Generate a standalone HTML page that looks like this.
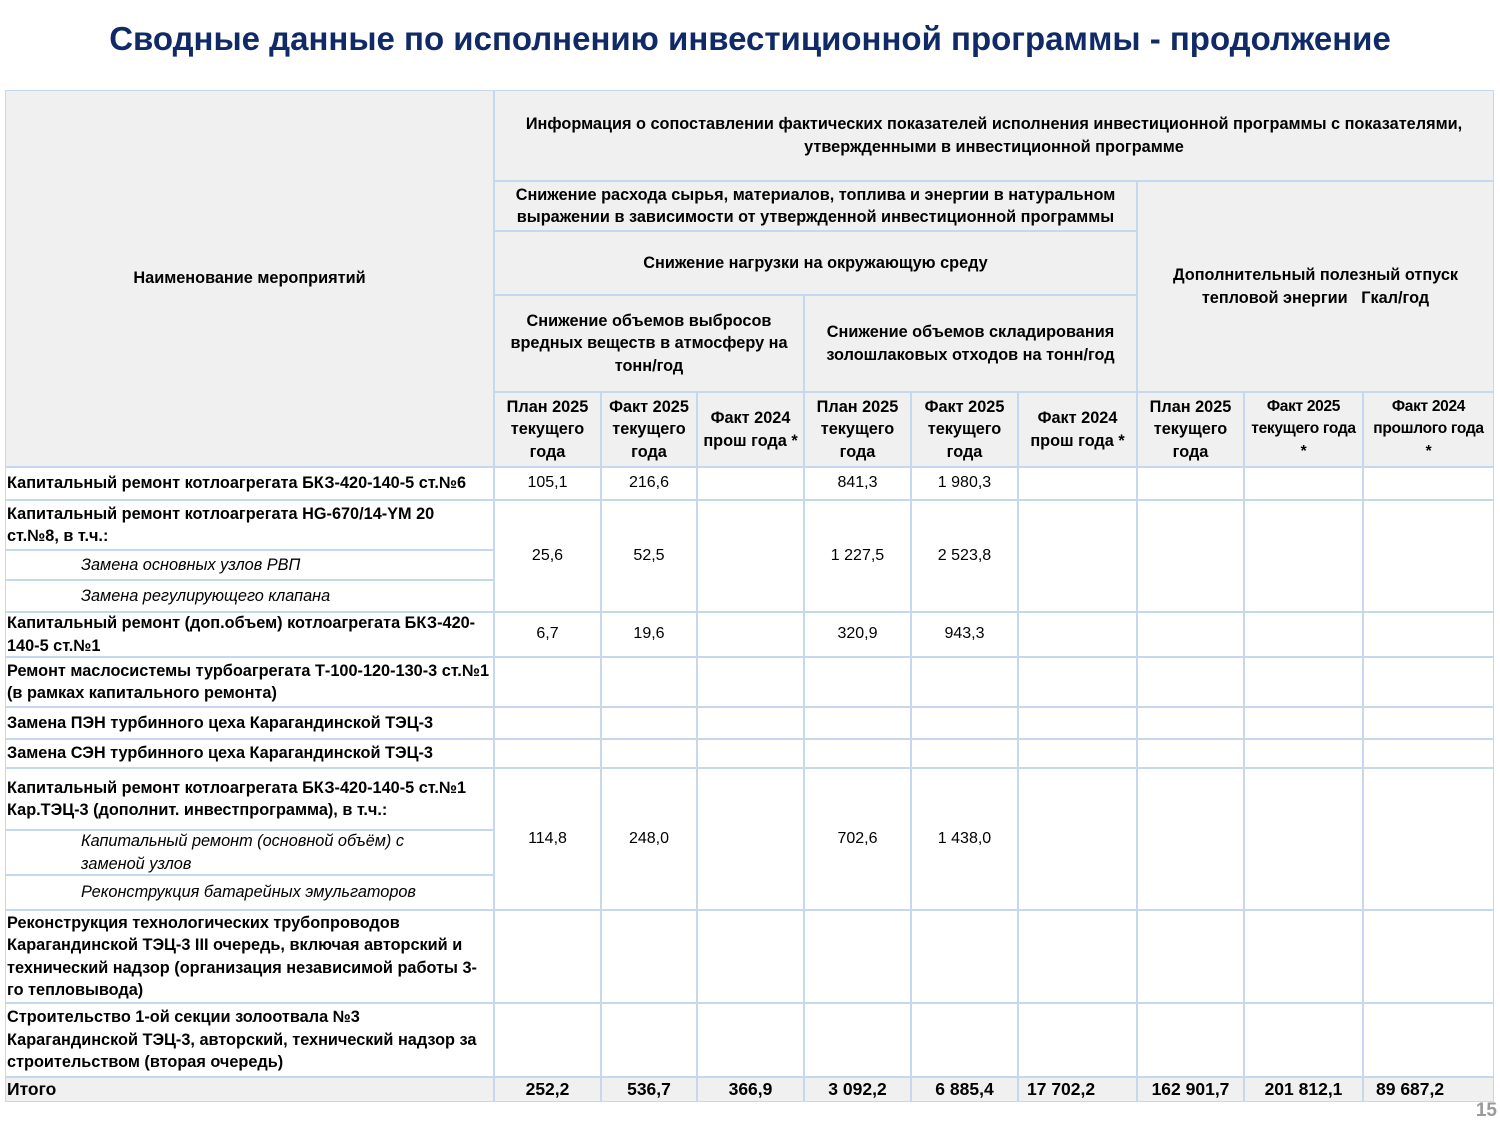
<!DOCTYPE html>
<html><head><meta charset="utf-8">
<style>
body{margin:0;width:1500px;height:1125px;background:#fff;position:relative;overflow:hidden;font-family:"Liberation Sans",sans-serif;color:#000}
.t{position:absolute;left:0;top:20px;width:1500px;text-align:center;font-size:33px;font-weight:bold;color:#0f2a66;white-space:nowrap}
.c{position:absolute;box-sizing:border-box;border:1px solid #c6d8ee;display:flex;align-items:center;justify-content:center;text-align:center;font-size:16.3px;line-height:22.5px;font-weight:bold;white-space:nowrap}
.h{background:#f0f0f0}
.l{justify-content:flex-start;text-align:left;padding-left:1px}
.i{justify-content:flex-start;text-align:left;padding-left:75px;font-weight:normal;font-style:italic}
.n{font-weight:normal;font-size:16px}
.s{font-size:15.5px;letter-spacing:-0.3px}
.tt{font-size:17.5px}
.pg{position:absolute;right:3px;top:1100px;font-size:19px;font-weight:bold;color:#999}
</style></head><body>
<div class="t">Сводные данные по исполнению инвестиционной программы - продолжение</div>

<div class="c h" style="left:5px;top:90px;width:489px;height:377px">Наименование мероприятий</div>
<div class="c h" style="left:494px;top:90px;width:1000px;height:91px">Информация о сопоставлении фактических показателей исполнения инвестиционной программы с показателями,<br>утвержденными в инвестиционной программе</div>
<div class="c h" style="left:494px;top:181px;width:643px;height:50px">Снижение расхода сырья, материалов, топлива и энергии в натуральном<br>выражении в зависимости от утвержденной инвестиционной программы</div>
<div class="c h" style="left:494px;top:231px;width:643px;height:64px">Снижение нагрузки на окружающую среду</div>
<div class="c h" style="left:1137px;top:181px;width:357px;height:211px">Дополнительный полезный отпуск<br>тепловой энергии&nbsp;&nbsp; Гкал/год</div>
<div class="c h" style="left:494px;top:295px;width:310px;height:97px">Снижение объемов выбросов<br>вредных веществ в атмосферу на<br>тонн/год</div>
<div class="c h" style="left:804px;top:295px;width:333px;height:97px">Снижение объемов складирования<br>золошлаковых отходов на тонн/год</div>
<div class="c h" style="left:494px;top:392px;width:107px;height:75px">План 2025<br>текущего<br>года</div>
<div class="c h" style="left:601px;top:392px;width:96px;height:75px">Факт 2025<br>текущего<br>года</div>
<div class="c h" style="left:697px;top:392px;width:107px;height:75px">Факт 2024<br>прош года *</div>
<div class="c h" style="left:804px;top:392px;width:107px;height:75px">План 2025<br>текущего<br>года</div>
<div class="c h" style="left:911px;top:392px;width:107px;height:75px">Факт 2025<br>текущего<br>года</div>
<div class="c h" style="left:1018px;top:392px;width:119px;height:75px">Факт 2024<br>прош года *</div>
<div class="c h" style="left:1137px;top:392px;width:107px;height:75px">План 2025<br>текущего<br>года</div>
<div class="c h s" style="left:1244px;top:392px;width:119px;height:75px">Факт 2025<br>текущего года<br>*</div>
<div class="c h s" style="left:1363px;top:392px;width:131px;height:75px">Факт 2024<br>прошлого года<br>*</div>

<div class="c l" style="left:5px;top:467px;width:489px;height:33px">Капитальный ремонт котлоагрегата БКЗ-420-140-5 ст.№6</div>
<div class="c l" style="left:5px;top:500px;width:489px;height:50px">Капитальный ремонт котлоагрегата HG-670/14-YM 20<br>ст.№8, в т.ч.:</div>
<div class="c i" style="left:5px;top:550px;width:489px;height:30px">Замена основных узлов РВП</div>
<div class="c i" style="left:5px;top:580px;width:489px;height:32px">Замена регулирующего клапана</div>
<div class="c l" style="left:5px;top:612px;width:489px;height:45px">Капитальный ремонт (доп.объем) котлоагрегата БКЗ-420-<br>140-5 ст.№1</div>
<div class="c l" style="left:5px;top:657px;width:489px;height:50px">Ремонт маслосистемы турбоагрегата Т-100-120-130-3 ст.№1<br>(в рамках капитального ремонта)</div>
<div class="c l" style="left:5px;top:707px;width:489px;height:32px">Замена ПЭН турбинного цеха Карагандинской ТЭЦ-3</div>
<div class="c l" style="left:5px;top:739px;width:489px;height:29px">Замена СЭН турбинного цеха Карагандинской ТЭЦ-3</div>
<div class="c l" style="left:5px;top:768px;width:489px;height:62px">Капитальный ремонт котлоагрегата БКЗ-420-140-5 ст.№1<br>Кар.ТЭЦ-3 (дополнит. инвестпрограмма), в т.ч.:</div>
<div class="c i" style="left:5px;top:830px;width:489px;height:45px">Капитальный ремонт (основной объём) с<br>заменой узлов</div>
<div class="c i" style="left:5px;top:875px;width:489px;height:35px">Реконструкция батарейных эмульгаторов</div>
<div class="c l" style="left:5px;top:910px;width:489px;height:93px">Реконструкция технологических трубопроводов<br>Карагандинской ТЭЦ-3 III очередь, включая авторский и<br>технический надзор (организация независимой работы 3-<br>го тепловывода)</div>
<div class="c l" style="left:5px;top:1003px;width:489px;height:74px">Строительство 1-ой секции золоотвала №3<br>Карагандинской ТЭЦ-3, авторский, технический надзор за<br>строительством (вторая очередь)</div>
<div class="c l h tt" style="left:5px;top:1077px;width:489px;height:25px">Итого</div>

<div class="c n" style="left:494px;top:467px;width:107px;height:33px">105,1</div>
<div class="c n" style="left:601px;top:467px;width:96px;height:33px">216,6</div>
<div class="c" style="left:697px;top:467px;width:107px;height:33px"></div>
<div class="c n" style="left:804px;top:467px;width:107px;height:33px">841,3</div>
<div class="c n" style="left:911px;top:467px;width:107px;height:33px">1 980,3</div>
<div class="c" style="left:1018px;top:467px;width:119px;height:33px"></div>
<div class="c" style="left:1137px;top:467px;width:107px;height:33px"></div>
<div class="c" style="left:1244px;top:467px;width:119px;height:33px"></div>
<div class="c" style="left:1363px;top:467px;width:131px;height:33px"></div>

<div class="c n" style="left:494px;top:500px;width:107px;height:112px">25,6</div>
<div class="c n" style="left:601px;top:500px;width:96px;height:112px">52,5</div>
<div class="c" style="left:697px;top:500px;width:107px;height:112px"></div>
<div class="c n" style="left:804px;top:500px;width:107px;height:112px">1 227,5</div>
<div class="c n" style="left:911px;top:500px;width:107px;height:112px">2 523,8</div>
<div class="c" style="left:1018px;top:500px;width:119px;height:112px"></div>
<div class="c" style="left:1137px;top:500px;width:107px;height:112px"></div>
<div class="c" style="left:1244px;top:500px;width:119px;height:112px"></div>
<div class="c" style="left:1363px;top:500px;width:131px;height:112px"></div>

<div class="c n" style="left:494px;top:612px;width:107px;height:45px">6,7</div>
<div class="c n" style="left:601px;top:612px;width:96px;height:45px">19,6</div>
<div class="c" style="left:697px;top:612px;width:107px;height:45px"></div>
<div class="c n" style="left:804px;top:612px;width:107px;height:45px">320,9</div>
<div class="c n" style="left:911px;top:612px;width:107px;height:45px">943,3</div>
<div class="c" style="left:1018px;top:612px;width:119px;height:45px"></div>
<div class="c" style="left:1137px;top:612px;width:107px;height:45px"></div>
<div class="c" style="left:1244px;top:612px;width:119px;height:45px"></div>
<div class="c" style="left:1363px;top:612px;width:131px;height:45px"></div>

<div class="c" style="left:494px;top:657px;width:107px;height:50px"></div><div class="c" style="left:601px;top:657px;width:96px;height:50px"></div><div class="c" style="left:697px;top:657px;width:107px;height:50px"></div><div class="c" style="left:804px;top:657px;width:107px;height:50px"></div><div class="c" style="left:911px;top:657px;width:107px;height:50px"></div><div class="c" style="left:1018px;top:657px;width:119px;height:50px"></div><div class="c" style="left:1137px;top:657px;width:107px;height:50px"></div><div class="c" style="left:1244px;top:657px;width:119px;height:50px"></div><div class="c" style="left:1363px;top:657px;width:131px;height:50px"></div>
<div class="c" style="left:494px;top:707px;width:107px;height:32px"></div><div class="c" style="left:601px;top:707px;width:96px;height:32px"></div><div class="c" style="left:697px;top:707px;width:107px;height:32px"></div><div class="c" style="left:804px;top:707px;width:107px;height:32px"></div><div class="c" style="left:911px;top:707px;width:107px;height:32px"></div><div class="c" style="left:1018px;top:707px;width:119px;height:32px"></div><div class="c" style="left:1137px;top:707px;width:107px;height:32px"></div><div class="c" style="left:1244px;top:707px;width:119px;height:32px"></div><div class="c" style="left:1363px;top:707px;width:131px;height:32px"></div>
<div class="c" style="left:494px;top:739px;width:107px;height:29px"></div><div class="c" style="left:601px;top:739px;width:96px;height:29px"></div><div class="c" style="left:697px;top:739px;width:107px;height:29px"></div><div class="c" style="left:804px;top:739px;width:107px;height:29px"></div><div class="c" style="left:911px;top:739px;width:107px;height:29px"></div><div class="c" style="left:1018px;top:739px;width:119px;height:29px"></div><div class="c" style="left:1137px;top:739px;width:107px;height:29px"></div><div class="c" style="left:1244px;top:739px;width:119px;height:29px"></div><div class="c" style="left:1363px;top:739px;width:131px;height:29px"></div>

<div class="c n" style="left:494px;top:768px;width:107px;height:142px">114,8</div>
<div class="c n" style="left:601px;top:768px;width:96px;height:142px">248,0</div>
<div class="c" style="left:697px;top:768px;width:107px;height:142px"></div>
<div class="c n" style="left:804px;top:768px;width:107px;height:142px">702,6</div>
<div class="c n" style="left:911px;top:768px;width:107px;height:142px">1 438,0</div>
<div class="c" style="left:1018px;top:768px;width:119px;height:142px"></div>
<div class="c" style="left:1137px;top:768px;width:107px;height:142px"></div>
<div class="c" style="left:1244px;top:768px;width:119px;height:142px"></div>
<div class="c" style="left:1363px;top:768px;width:131px;height:142px"></div>

<div class="c" style="left:494px;top:910px;width:107px;height:93px"></div><div class="c" style="left:601px;top:910px;width:96px;height:93px"></div><div class="c" style="left:697px;top:910px;width:107px;height:93px"></div><div class="c" style="left:804px;top:910px;width:107px;height:93px"></div><div class="c" style="left:911px;top:910px;width:107px;height:93px"></div><div class="c" style="left:1018px;top:910px;width:119px;height:93px"></div><div class="c" style="left:1137px;top:910px;width:107px;height:93px"></div><div class="c" style="left:1244px;top:910px;width:119px;height:93px"></div><div class="c" style="left:1363px;top:910px;width:131px;height:93px"></div>
<div class="c" style="left:494px;top:1003px;width:107px;height:74px"></div><div class="c" style="left:601px;top:1003px;width:96px;height:74px"></div><div class="c" style="left:697px;top:1003px;width:107px;height:74px"></div><div class="c" style="left:804px;top:1003px;width:107px;height:74px"></div><div class="c" style="left:911px;top:1003px;width:107px;height:74px"></div><div class="c" style="left:1018px;top:1003px;width:119px;height:74px"></div><div class="c" style="left:1137px;top:1003px;width:107px;height:74px"></div><div class="c" style="left:1244px;top:1003px;width:119px;height:74px"></div><div class="c" style="left:1363px;top:1003px;width:131px;height:74px"></div>

<div class="c h tt" style="left:494px;top:1077px;width:107px;height:25px">252,2</div>
<div class="c h tt" style="left:601px;top:1077px;width:96px;height:25px">536,7</div>
<div class="c h tt" style="left:697px;top:1077px;width:107px;height:25px">366,9</div>
<div class="c h tt" style="left:804px;top:1077px;width:107px;height:25px">3 092,2</div>
<div class="c h tt" style="left:911px;top:1077px;width:107px;height:25px">6 885,4</div>
<div class="c h tt" style="left:1018px;top:1077px;width:119px;height:25px;justify-content:flex-start;padding-left:8px">17 702,2</div>
<div class="c h tt" style="left:1137px;top:1077px;width:107px;height:25px">162 901,7</div>
<div class="c h tt" style="left:1244px;top:1077px;width:119px;height:25px">201 812,1</div>
<div class="c h tt" style="left:1363px;top:1077px;width:131px;height:25px;justify-content:flex-start;padding-left:12px">89 687,2</div>

<div class="pg">15</div>
</body></html>
